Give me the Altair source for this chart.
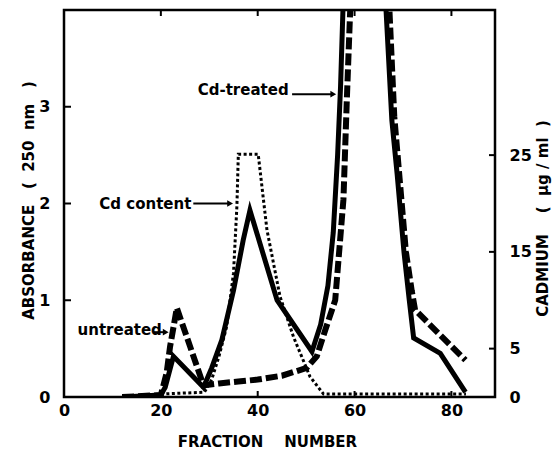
import altair as alt
import pandas as pd

# ---- data ----
untreated_x = [12, 20, 21.2, 21.9, 23.3, 28.8, 32, 36, 40, 45, 50.1, 52.2, 54, 56, 57.7, 58.4, 59.1, 63, 67.2, 68.2, 69.4, 70.6, 71.8, 72.5, 82.9]
untreated_y = [0, 0.02, 0.25, 0.52, 0.92, 0.12, 0.14, 0.16, 0.18, 0.22, 0.3, 0.42, 0.7, 1.0, 2.04, 3.07, 4.0, 8.0, 4.0, 2.9, 2.2, 1.5, 1.1, 0.9, 0.38]

treated_x = [12, 20, 20.9, 22.6, 28.8, 30.5, 32.6, 35, 37, 38.4, 44, 51.2, 53, 54.5, 55.6, 56.5, 57.1, 57.6, 62, 66.5, 67.7, 68.8, 70.2, 71.3, 72.2, 77.7, 82.9]
treated_y = [0, 0.02, 0.1, 0.42, 0.1, 0.3, 0.59, 1.1, 1.62, 1.93, 1.0, 0.47, 0.75, 1.15, 1.7, 2.5, 3.2, 4.0, 8.0, 4.0, 2.86, 2.3, 1.5, 1.0, 0.61, 0.45, 0.05]

cd_x = [20, 29, 30.5, 32, 33.6, 35, 35.7, 36, 40.1, 41.9, 44.6, 47.4, 50.8, 53.6, 83]
cd_y = [0.3, 0.5, 1.8, 4.2, 7.3, 12.8, 19.7, 25.1, 25.1, 17.3, 10.4, 6.2, 2.1, 0.3, 0.3]

x_ticks = [0, 20, 40, 60, 80]
abs_ticks = [0, 1, 2, 3]
cd_ticks = [0, 5, 15, 25]

NB = "\u00a0"
x_title = "FRACTION" + NB * 4 + "NUMBER"
y_title = "ABSORBANCE" + NB * 3 + "(" + NB * 2 + "250" + NB * 2 + "nm" + NB * 3 + ")"
cd_title = "CADMIUM" + NB * 4 + "(" + NB * 2 + "μg" + NB + "/" + NB + "ml" + NB * 2 + ")"

label_text = ["Cd-treated", "Cd content", "untreated"]
label_x = [37, 16.8, 11.5]
label_y = [3.17, 2.0, 0.69]
arrow_x1 = [47.1, 26.7, 18.4]
arrow_x2 = [55.6, 34.3, 21.0]
arrow_y = [3.13, 2.0, 0.67]

W, H = 431, 387
FONT = "DejaVu Sans"

xscale = alt.Scale(domain=[0, 89], nice=False, zero=False)
yscale = alt.Scale(domain=[0, 4], nice=False)
cdscale = alt.Scale(domain=[0, 40], nice=False)

common_axis = dict(
    labelFont=FONT, labelFontWeight="bold", labelFontSize=16, labelColor="black",
    titleFont=FONT, titleFontWeight="bold", titleFontSize=15, titleColor="black",
    ticks=False, domain=False, grid=False, labelFlush=False, labelOverlap=False,
)

x_axis = alt.Axis(values=x_ticks, title=x_title, labelPadding=5,
                  titleX=203, titleY=44, titleBaseline="middle", titleAlign="center",
                  **common_axis)
y_axis = alt.Axis(values=abs_ticks, title=y_title, labelPadding=14,
                  titleX=-36, titleY=190, titleAngle=270, titleBaseline="middle",
                  titleAlign="center", **common_axis)
cd_axis = alt.Axis(orient="right", values=cd_ticks, title=cd_title,
                   labelPadding=14, labelAlign="left",
                   titleX=47, titleY=208, titleAngle=270, titleBaseline="middle",
                   titleAlign="center", **common_axis)

X = alt.X("x:Q", scale=xscale, axis=x_axis)
Y = alt.Y("y:Q", scale=yscale, axis=y_axis)
YCD = alt.Y("cd:Q", scale=cdscale, axis=cd_axis)

df_un = pd.DataFrame({"x": untreated_x, "y": untreated_y})
df_tr = pd.DataFrame({"x": treated_x, "y": treated_y})
df_cd = pd.DataFrame({"x": cd_x, "cd": cd_y})
df_lab = pd.DataFrame({"t": label_text, "x": label_x, "y": label_y})
df_arr = pd.DataFrame({"x": arrow_x1, "x2": arrow_x2, "y": arrow_y})
df_head = pd.DataFrame({"x": arrow_x2, "y": arrow_y})

untreated = alt.Chart(df_un).mark_line(
    clip=True, color="black", strokeWidth=6, strokeDash=[12, 4]
).encode(x=X, y=Y, order=alt.Order("x:Q"))

treated = alt.Chart(df_tr).mark_line(clip=True, color="black", strokeWidth=5).encode(
    x=X, y=Y, order=alt.Order("x:Q"))

labels = alt.Chart(df_lab).mark_text(
    font=FONT, fontWeight="bold", fontSize=15, color="black"
).encode(x=X, y=Y, text="t:N")

arrows = alt.Chart(df_arr).mark_rule(color="black", strokeWidth=2).encode(
    x=X, x2="x2:Q", y=Y)

heads = alt.Chart(df_head).mark_point(
    shape="triangle-right", filled=True, color="black", size=45, opacity=1
).encode(x=X, y=Y)

bottom_ticks = alt.Chart(pd.DataFrame({"x": x_ticks[1:]})).mark_rule(
    color="black", strokeWidth=2
).encode(x=X, y=alt.value(H), y2=alt.value(H - 6))

top_ticks = alt.Chart(pd.DataFrame({"x": x_ticks[1:]})).mark_rule(
    color="black", strokeWidth=2
).encode(x=X, y=alt.value(0), y2=alt.value(6))

left_ticks = alt.Chart(pd.DataFrame({"y": abs_ticks[1:]})).mark_rule(
    color="black", strokeWidth=2
).encode(y=Y, x=alt.value(0), x2=alt.value(7))

left_group = alt.layer(untreated, treated, labels, arrows, heads,
                       bottom_ticks, top_ticks, left_ticks)

cd_line = alt.Chart(df_cd).mark_line(
    clip=True, color="black", strokeWidth=3, strokeDash=[3, 2.5]
).encode(x=X, y=YCD, order=alt.Order("x:Q"))

right_ticks = alt.Chart(pd.DataFrame({"cd": cd_ticks[1:]})).mark_rule(
    color="black", strokeWidth=2
).encode(y=YCD, x=alt.value(W - 6), x2=alt.value(W))

right_group = alt.layer(cd_line, right_ticks)

chart = alt.layer(left_group, right_group).resolve_scale(y="independent").properties(
    width=W, height=H,
    padding={"left": 56, "top": 2, "right": 57, "bottom": 52},
    autosize=alt.AutoSizeParams(type="none"),
    background="white",
).configure_view(stroke="black", strokeWidth=2.5)

chart.save("out.html", embed_options={"renderer": "svg", "actions": False})
